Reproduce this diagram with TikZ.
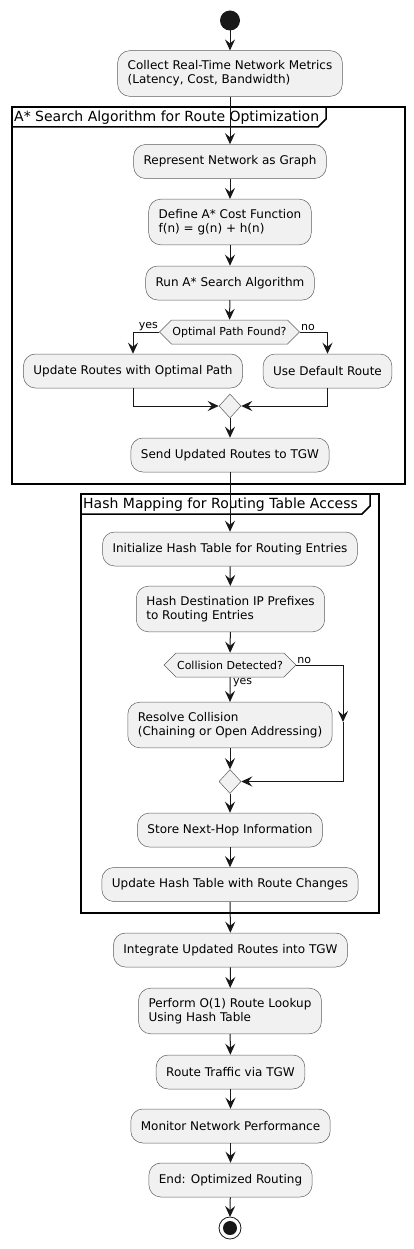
\documentclass[tikz,border=0pt]{standalone}
\usepackage{fontspec}
\setmainfont{DejaVu Sans}
\usetikzlibrary{arrows.meta,shapes.geometric,shapes.symbols}

\definecolor{boxfill}{HTML}{F1F1F1}
\definecolor{linec}{HTML}{181818}

\tikzset{
    box/.style={draw=linec!70, fill=boxfill, line width=0.5pt, rounded corners=12pt,
        font=\fontsize{12}{14}\selectfont, align=left, inner xsep=10pt, inner ysep=10pt,
        minimum height=34pt},
    decision/.style={draw=linec!70, fill=boxfill, line width=0.5pt, shape=signal,
        signal to=west and east, signal pointer angle=90, font=\fontsize{11}{13}\selectfont,
        inner xsep=1pt, inner ysep=2pt, minimum height=24pt},
    merge/.style={draw=linec!70, fill=boxfill, line width=0.5pt, diamond, inner sep=0pt,
        minimum width=22pt, minimum height=24pt},
    flow/.style={draw=linec, line width=1pt, -{Stealth[length=11pt,width=10pt,inset=4pt]}},
    frame/.style={draw=black, line width=1.5pt},
    frametitle/.style={anchor=west, inner sep=0pt, font=\fontsize{14}{16}\selectfont},
    branch/.style={font=\fontsize{11}{13}\selectfont, inner sep=1pt}
}

\begin{document}
\begin{tikzpicture}[x=1pt,y=-1pt]

    \useasboundingbox (0,0) rectangle (414,1249);

    % Draw the frames first
    % Frame for the A* search
    \draw[frame] (12,107) rectangle (405,484);
    \draw[frame] (12,127) -- (318,127) -- (326,119) -- (326,107);
    \node[frametitle] (astarT) at (14,117.5) {A* Search Algorithm for Route Optimization};

    % Frame for the hash mapping
    \draw[frame] (81,494) rectangle (379,913);
    \draw[frame] (81,514) -- (362,514) -- (370,506) -- (370,494);
    \node[frametitle] (hashT) at (83,504.5) {Hash Mapping for Routing Table Access};

    % Start node
    \fill[linec] (230,20.5) circle (10);
    \coordinate (start) at (230,30.5);

    % Define the activities
    \node[box] (collect) at (230,73.5) {Collect Real-Time Network Metrics\\(Latency, Cost, Bandwidth)};
    \node[box] (graph) at (230,161.5) {Represent Network as Graph};
    \node[box] (costfn) at (230,222) {Define A* Cost Function\\f(n) = g(n) + h(n)};
    \node[box] (runA) at (230,283) {Run A* Search Algorithm};
    \node[decision] (optimal) at (229.5,332) {Optimal Path Found?};
    \node[box] (updOpt) at (133,371) {Update Routes with Optimal Path};
    \node[box] (dflt) at (327.5,371) {Use Default Route};
    \node[merge] (mergeA) at (230,406) {};
    \node[box] (sendTGW) at (230,455) {Send Updated Routes to TGW};

    \node[box] (initHash) at (230,549) {Initialize Hash Table for Routing Entries};
    \node[box] (hashIP) at (230.5,609) {Hash Destination IP Prefixes\\to Routing Entries};
    \node[decision] (collision) at (230,665) {Collision Detected?};
    \node[box] (resolve) at (230,725) {Resolve Collision\\(Chaining or Open Addressing)};
    \node[merge] (mergeH) at (230,781.5) {};
    \node[box] (nextHop) at (230,830) {Store Next-Hop Information};
    \node[box] (updHash) at (230,884.5) {Update Hash Table with Route Changes};

    \node[box] (integrate) at (230.5,950) {Integrate Updated Routes into TGW};
    \node[box] (lookup) at (230,1011) {Perform O(1) Route Lookup\\Using Hash Table};
    \node[box] (traffic) at (230.5,1072) {Route Traffic via TGW};
    \node[box] (monitor) at (230.5,1126) {Monitor Network Performance};
    \node[box] (finish) at (230.5,1180) {End: Optimized Routing};

    % Stop node
    \draw[linec, line width=0.8pt, fill=white] (230,1228) circle (11);
    \fill[linec] (230,1228) circle (7);
    \coordinate (stop) at (230,1217);

    % Draw the connectors
    \draw[flow] (start) -- (collect);
    \draw[flow] (collect) -- (graph);
    \draw[flow] (graph) -- (costfn);
    \draw[flow] (costfn) -- (runA);
    \draw[flow] (runA) -- (optimal);
    \draw[flow] (optimal.west) -| (updOpt.north);
    \draw[flow] (optimal.east) -| (dflt.north);
    \draw[flow] (updOpt.south) |- (mergeA.west);
    \draw[flow] (dflt.south) |- (mergeA.east);
    \draw[flow] (mergeA) -- (sendTGW);
    \draw[flow] (sendTGW) -- (initHash);

    \draw[flow] (initHash) -- (hashIP);
    \draw[flow] (hashIP) -- (collision);
    \draw[flow] (collision) -- (resolve);
    % The "no" branch goes round on the right
    \coordinate (collR) at (343,665);
    \coordinate (collM) at (343,722);
    \coordinate (collB) at (343,781.5);
    \draw[flow] (collision.east) -- (collR) -- (collM);
    \draw[flow] (collM) -- (collB) -- (mergeH.east);
    \draw[flow] (resolve) -- (mergeH);
    \draw[flow] (mergeH) -- (nextHop);
    \draw[flow] (nextHop) -- (updHash);
    \draw[flow] (updHash) -- (integrate);

    \draw[flow] (integrate) -- (lookup);
    \draw[flow] (lookup) -- (traffic);
    \draw[flow] (traffic) -- (monitor);
    \draw[flow] (monitor) -- (finish);
    \draw[flow] (finish) -- (stop);

    % Add branch labels
    \node[branch, anchor=south east] at (optimal.west) {yes};
    \node[branch, anchor=south west] at (optimal.east) {no};
    \node[branch, anchor=south west] at (collision.east) {no};
    \node[branch, anchor=north west, xshift=2pt] at (collision.south) {yes};

\end{tikzpicture}
\end{document}
